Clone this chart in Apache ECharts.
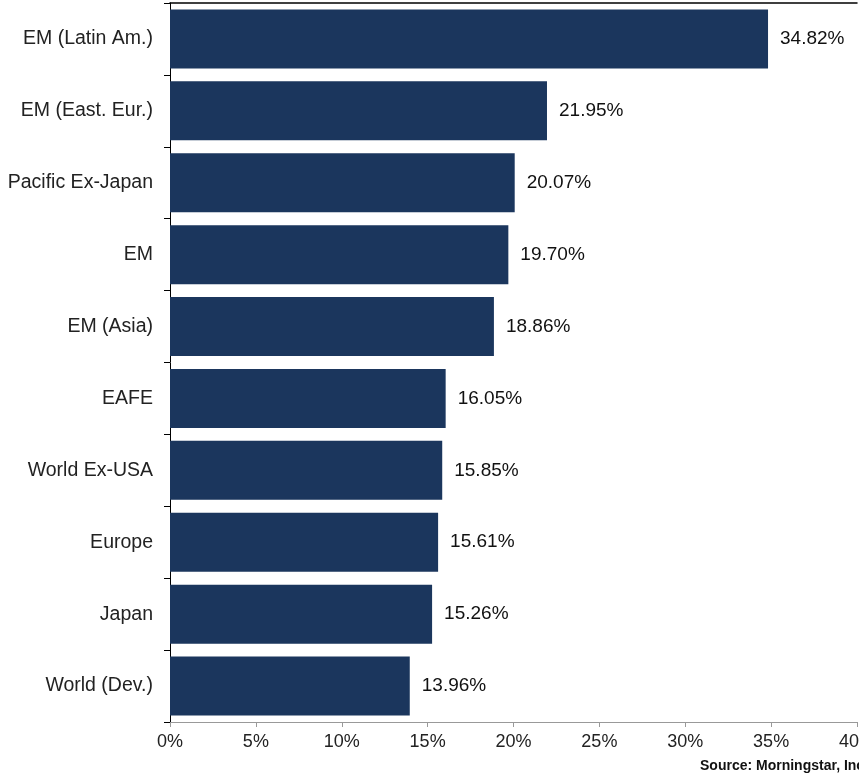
<!DOCTYPE html>
<html>
<head>
<meta charset="utf-8">
<script src="https://cdn.jsdelivr.net/npm/echarts@6/dist/echarts.min.js"></script>
<style>
  html, body { margin: 0; padding: 0; background: #fff; }
  #chart { width: 859px; height: 774px; }
</style>
</head>
<body>
<div id="chart"></div>
<script>
// categories, top to bottom
const categories = ["EM (Latin Am.)", "EM (East. Eur.)", "Pacific Ex-Japan", "EM", "EM (Asia)", "EAFE", "World Ex-USA", "Europe", "Japan", "World (Dev.)"];
// returns in %
const returns = [34.82, 21.95, 20.07, 19.70, 18.86, 16.05, 15.85, 15.61, 15.26, 13.96];
const xTicks = [0, 5, 10, 15, 20, 25, 30, 35, 40];

const chart = echarts.init(document.getElementById("chart"));
const font = "Arial, 'Liberation Sans', sans-serif";

const option = {
  animation: false,
  grid: { left: 170, right: 2, top: 3, bottom: 52, outerBoundsMode: "none", containLabel: false },
  xAxis: [
    {
      type: "value",
      min: xTicks[0],
      max: xTicks[xTicks.length - 1],
      interval: 5,
      position: "bottom",
      splitLine: { show: false },
      axisLine: { show: true, lineStyle: { color: "#999", width: 1 } },
      axisTick: { show: true, length: 5, lineStyle: { color: "#999" } },
      axisLabel: {
        color: "#222",
        fontSize: 18,
        fontFamily: font,
        margin: 11,
        formatter: v => v + "%"
      }
    },
    {
      // top border line
      type: "value",
      min: xTicks[0],
      max: xTicks[xTicks.length - 1],
      position: "top",
      splitLine: { show: false },
      axisLine: { show: true, lineStyle: { color: "#000", width: 1.5 } },
      axisTick: { show: false },
      axisLabel: { show: false }
    }
  ],
  yAxis: {
    type: "category",
    data: categories,
    inverse: true,
    axisLine: { show: true, lineStyle: { color: "#000", width: 1 } },
    axisTick: { show: true, length: 6, lineStyle: { color: "#000" } },
    axisLabel: {
      color: "#222",
      fontSize: 19.5,
      fontFamily: font,
      margin: 17
    }
  },
  series: [
    {
      type: "bar",
      data: returns,
      barCategoryGap: "18%",
      itemStyle: { color: "#1b365d" },
      label: {
        show: true,
        position: "right",
        distance: 12,
        color: "#111",
        fontSize: 19,
        fontFamily: font,
        formatter: p => p.value.toFixed(2) + "%"
      }
    }
  ],
  graphic: [
    {
      type: "text",
      left: 700,
      top: 759,
      style: {
        text: "Source: Morningstar, Inc.",
        fill: "#111",
        font: "bold 14px Arial, 'Liberation Sans', sans-serif"
      }
    }
  ]
};

chart.setOption(option);
</script>
</body>
</html>
